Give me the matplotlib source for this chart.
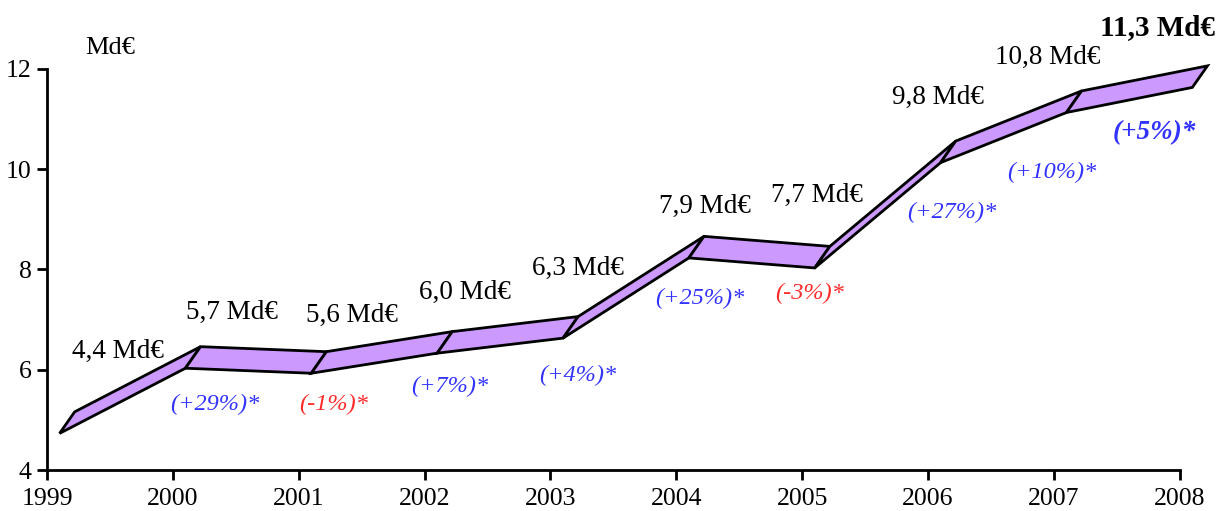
import matplotlib.pyplot as plt
from matplotlib.patches import Polygon

# ==========================================================
# DONNÉES
# ==========================================================

annees = [1999, 2000, 2001, 2002, 2003, 2004, 2005, 2006, 2007, 2008]
valeurs = [4.4, 5.7, 5.6, 6.0, 6.3, 7.9, 7.7, 9.8, 10.8, 11.3]
etiquettes = ["4,4 Md€", "5,7 Md€", "5,6 Md€", "6,0 Md€", "6,3 Md€",
              "7,9 Md€", "7,7 Md€", "9,8 Md€", "10,8 Md€", "11,3 Md€"]
variations = ["(+29%)*", "(-1%)*", "(+7%)*", "(+4%)*", "(+25%)*",
              "(-3%)*", "(+27%)*", "(+10%)*", "(+5%)*"]

# ==========================================================
# MISE EN PAGE
# ==========================================================

POS_ETIQ = [(1999.56, 6.36), (2000.47, 7.15), (2001.42, 7.09), (2002.32, 7.55),
            (2003.22, 8.03), (2004.23, 9.25), (2005.12, 9.47), (2006.08, 11.43),
            (2006.95, 12.22), (2007.82, 12.82)]
POS_VAR = [(2000.33, 5.30), (2001.28, 5.30), (2002.20, 5.66), (2003.22, 5.88),
           (2004.19, 7.43), (2005.06, 7.53), (2006.19, 9.13), (2006.98, 9.93),
           (2007.80, 10.73)]

# effet 3D du ruban
DX0, DY0 = 0.10, 0.33
DX, DY = 0.12, 0.43

BLEU = "#3333ff"
ROUGE = "#ff2a2a"
VIOLET = "#cc99ff"
POLICE = "Liberation Serif"

plt.rcParams["font.family"] = [POLICE, "DejaVu Serif"]

fig = plt.figure(figsize=(12.2, 5.11), dpi=100)
ax = fig.add_axes([0.0385, 0.0802, 0.9285, 0.785])

ax.set_xlim(1999, 2008)
ax.set_ylim(4, 12)

# ruban
for i in range(len(annees) - 1):
    x0, y0 = annees[i] + DX0, valeurs[i] + DY0
    x1, y1 = annees[i + 1] + DX0, valeurs[i + 1] + DY0
    pts = [(x0, y0), (x1, y1), (x1 + DX, y1 + DY), (x0 + DX, y0 + DY)]
    ax.add_patch(Polygon(pts, closed=True, facecolor=VIOLET,
                         edgecolor="black", linewidth=2,
                         joinstyle="miter", clip_on=False, zorder=3))

# étiquettes
ax.text(1999.50, 12.42, "Md€", fontsize=19, ha="center", va="center")
for i, txt in enumerate(etiquettes):
    x, y = POS_ETIQ[i]
    dernier = i == len(etiquettes) - 1
    ax.text(x, y, txt, fontsize=21 if dernier else 19.5,
            fontweight="bold" if dernier else "normal",
            ha="center", va="center", clip_on=False)

for i, txt in enumerate(variations):
    x, y = POS_VAR[i]
    dernier = i == len(variations) - 1
    couleur = ROUGE if txt.startswith("(-") else BLEU
    ax.text(x, y, txt, fontsize=19.5 if dernier else 17.5, style="italic",
            fontweight="bold" if dernier else "normal",
            color=couleur, ha="center", va="center", clip_on=False)

# axes
ax.spines["top"].set_visible(False)
ax.spines["right"].set_visible(False)
ax.spines["left"].set_linewidth(2)
ax.spines["bottom"].set_linewidth(2)
ax.set_xticks(annees)
ax.set_yticks([4, 6, 8, 10, 12])
ax.tick_params(axis="both", direction="out", length=7, width=2,
               labelsize=18.5, pad=3)
ax.tick_params(axis="x", pad=6)
ax.tick_params(axis="y", pad=4)

fig.savefig("out.png", dpi=100)
